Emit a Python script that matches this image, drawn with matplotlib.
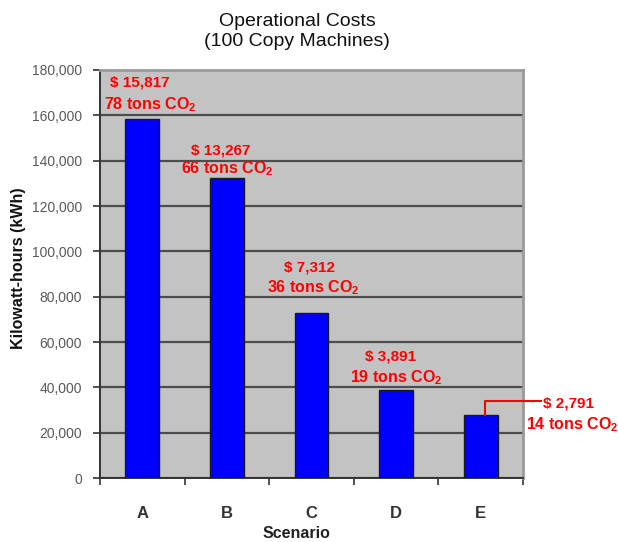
import matplotlib
matplotlib.use("Agg")
import matplotlib.pyplot as plt
import numpy as np
from matplotlib.ticker import FuncFormatter, FixedLocator

plt.rcParams['font.family'] = ['Liberation Sans', 'DejaVu Sans']
plt.rcParams['mathtext.fontset'] = 'custom'
plt.rcParams['mathtext.rm'] = 'Liberation Sans:bold'
plt.rcParams['mathtext.bf'] = 'Liberation Sans:bold'
plt.rcParams['mathtext.it'] = 'Liberation Sans:bold'

# Chart data
scenarios = ['A', 'B', 'C', 'D', 'E']
kwh = [158500, 132500, 73000, 39000, 28000]
cost_labels = ['$ 15,817', '$ 13,267', '$ 7,312', '$ 3,891', '$ 2,791']
co2_tons = [78, 66, 36, 19, 14]
y_ticks = [0, 20000, 40000, 60000, 80000, 100000, 120000, 140000, 160000, 180000]

# Label placement (pixel offsets from the top centre of each bar)
cost_offsets = [(-3, 32), (-6, 23), (-2, 41), (-6, 29), (88, 7)]
co2_offsets = [(8, 9), (0, 4), (2, 20), (0, 7), (91, -15)]

W, H = 618, 542
fig = plt.figure(figsize=(W / 100, H / 100), dpi=100)
fig.patch.set_facecolor('white')

x0, x1, y0, y1 = 100, 523, 70, 478
ax = fig.add_axes([x0 / W, 1 - y1 / H, (x1 - x0) / W, (y1 - y0) / H])
ax.set_facecolor('#c3c3c3')

x = np.arange(len(scenarios))
ax.bar(x, kwh, width=0.40, color='#0000ff', edgecolor='#1a1a1a', linewidth=1.0, zorder=3)

ax.set_xlim(-0.5, len(scenarios) - 0.5)
ax.set_ylim(0, 180000)

# Horizontal gridlines
ax.yaxis.set_major_locator(FixedLocator(y_ticks))
ax.yaxis.set_major_formatter(FuncFormatter(lambda v, p: f"{int(v):,}"))
ax.grid(axis='y', color='#4d4d4d', linewidth=1.6, zorder=1)
ax.grid(axis='x', visible=False)

# Category labels sit between boundary ticks
ax.set_xticks(np.arange(-0.5, len(scenarios), 1.0))
ax.set_xticklabels([])
ax.set_xticks(x, minor=True)
ax.set_xticklabels(scenarios, minor=True, fontsize=12, fontweight='bold', color='#333333')
ax.tick_params(axis='x', which='major', direction='out', length=5, width=1.2, color='#333333')
ax.tick_params(axis='x', which='minor', length=0, pad=20)
ax.tick_params(axis='y', direction='out', length=5, width=1.2, color='#333333',
               labelsize=10, labelcolor='#5a5a5a', pad=8)

for side in ['left', 'bottom']:
    ax.spines[side].set_color('#333333')
    ax.spines[side].set_linewidth(1.4)
for side in ['top', 'right']:
    ax.spines[side].set_color('#9a9a9a')
    ax.spines[side].set_linewidth(2.0)

# Titles and axis labels
fig.text(297 / W, 1 - 25.5 / H, 'Operational Costs', ha='center', va='baseline',
         fontsize=14, color='#111111')
fig.text(297 / W, 1 - 46.5 / H, '(100 Copy Machines)', ha='center', va='baseline',
         fontsize=14, color='#111111')
fig.text(296 / W, 1 - 538 / H, 'Scenario', ha='center', va='baseline',
         fontsize=11.5, fontweight='bold', color='#222222')
fig.text(18.5 / W, 1 - 268.5 / H, 'Kilowatt-hours (kWh)', ha='center', va='center',
         rotation=90, fontsize=11.5, fontweight='bold', color='#111111')

# Cost and CO2 annotations
red = '#ff0000'
for i, (val, cost, tons) in enumerate(zip(kwh, cost_labels, co2_tons)):
    ax.annotate(cost, xy=(i, val), xytext=cost_offsets[i], textcoords='offset pixels',
                ha='center', va='baseline', fontsize=11, fontweight='bold', color=red,
                annotation_clip=False, zorder=5)
    ax.annotate(f'{tons} tons CO$_2$', xy=(i, val), xytext=co2_offsets[i],
                textcoords='offset pixels', ha='center', va='baseline', fontsize=11.5,
                fontweight='bold', color=red, annotation_clip=False, zorder=5)

# Leader line from the last bar to its label
last = len(kwh) - 1
trans = ax.transData
bx, by = trans.transform((last, kwh[last]))
pts = np.array([[bx + 4, by], [bx + 4, by + 14], [bx + 60, by + 14]])
fig.add_artist(plt.Line2D(pts[:, 0] / W, pts[:, 1] / H, color=red, linewidth=1.5,
                          transform=fig.transFigure, zorder=6))

fig.savefig('out.png', dpi=100)
